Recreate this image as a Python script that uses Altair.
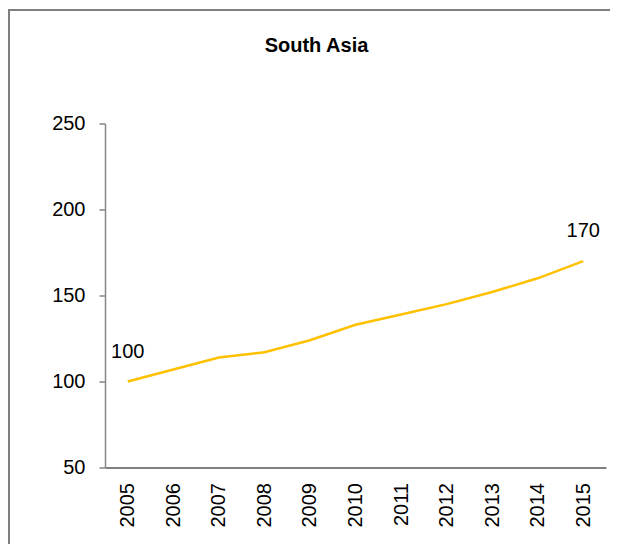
import altair as alt
import pandas as pd

years = ["2005", "2006", "2007", "2008", "2009", "2010", "2011", "2012", "2013", "2014", "2015"]
values = [100, 107, 114, 117, 124, 133, 139, 145, 152, 160, 170]
y_ticks = [50, 100, 150, 200, 250]

df = pd.DataFrame({"year": years, "value": values})
ends = df.iloc[[0, len(df) - 1]]

FONT = "Liberation Sans"

x_enc = alt.X("year:O", sort=years,
              axis=alt.Axis(title=None, labelAngle=-90, labelFontSize=20, labelFont=FONT,
                            labelColor="#000000", ticks=False, tickSize=0, labelPadding=15,
                            domainColor="#000000", domainWidth=1))
y_enc = alt.Y("value:Q", scale=alt.Scale(domain=[50, 250], nice=False, zero=False),
              axis=alt.Axis(title=None, values=y_ticks, grid=False, labelFontSize=20,
                            labelFont=FONT, labelColor="#000000", tickSize=6,
                            tickColor="#868686", domainColor="#868686", domainWidth=1.5,
                            tickWidth=1.5, labelPadding=14))

line = alt.Chart(df).mark_line(color="#FFC000", strokeWidth=2.5).encode(x=x_enc, y=y_enc)

labels = alt.Chart(ends).mark_text(font=FONT, fontSize=20, color="#000000", dy=-30,
                                   baseline="middle", align="center").encode(
    x=alt.X("year:O", sort=years), y="value:Q", text="value:Q")

frame_src = pd.DataFrame({"a": [0]})
top_edge = alt.Chart(frame_src).mark_rule(stroke="#7f7f7f", strokeWidth=2).encode(
    x=alt.value(-96), x2=alt.value(505), y=alt.value(-113.5))
left_edge = alt.Chart(frame_src).mark_rule(stroke="#7f7f7f", strokeWidth=2).encode(
    x=alt.value(-96), y=alt.value(-114.5), y2=alt.value(425))

chart = alt.layer(top_edge, left_edge, line, labels).properties(
    width=501, height=344,
    title=alt.TitleParams("South Asia", fontSize=20, font=FONT, fontWeight="bold",
                          color="#000000", anchor="middle", dx=-39, offset=-58,
                          baseline="middle"),
    autosize=alt.AutoSizeParams(type="none"),
    padding={"left": 97, "top": 115.5, "right": 5, "bottom": 76.5},
).configure_view(strokeWidth=0)

chart.save("out.html", embed_options={"renderer": "svg", "actions": False})
